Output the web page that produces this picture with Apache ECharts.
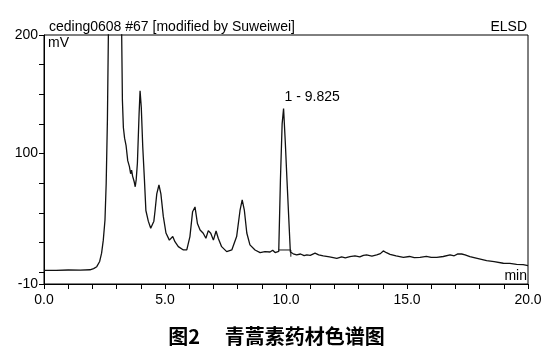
<!DOCTYPE html>
<html>
<head>
<meta charset="utf-8">
<script src="https://cdn.jsdelivr.net/npm/echarts@6/dist/echarts.min.js"></script>
<style>
html,body{margin:0;padding:0;background:#fff;}
#chart{width:553px;height:357px;}
</style>
</head>
<body>
<div id="chart"></div>
<script>
// retention time (min)
var times = [0, 0.5, 1.0, 1.5, 1.9, 2.05, 2.18, 2.3, 2.38, 2.45, 2.52, 2.57, 2.62, 2.66, 2.70, 3.17, 3.21, 3.24, 3.28, 3.33, 3.39, 3.46, 3.53, 3.58, 3.62, 3.66, 3.69, 3.73, 3.77, 3.81, 3.86, 3.93, 3.97, 4.02, 4.08, 4.15, 4.21, 4.31, 4.41, 4.48, 4.54, 4.59, 4.66, 4.75, 4.83, 4.93, 5.04, 5.18, 5.25, 5.32, 5.41, 5.55, 5.76, 5.90, 6.03, 6.14, 6.24, 6.34, 6.45, 6.58, 6.69, 6.79, 6.89, 7.0, 7.11, 7.2, 7.34, 7.55, 7.76, 7.96, 8.1, 8.19, 8.28, 8.38, 8.51, 8.72, 8.93, 9.13, 9.34, 9.45, 9.55, 9.70, 9.77, 9.84, 9.90, 9.97, 10.04, 10.18, 10.3, 10.44, 10.6, 10.75, 10.86, 11.0, 11.2, 11.35, 11.54, 11.8, 12.1, 12.3, 12.45, 12.64, 12.85, 13.05, 13.2, 13.33, 13.55, 13.75, 13.9, 14.02, 14.15, 14.3, 14.55, 14.85, 15.1, 15.3, 15.54, 15.8, 16.0, 16.23, 16.5, 16.78, 16.95, 17.1, 17.26, 17.4, 17.6, 17.9, 18.29, 18.6, 18.98, 19.25, 19.53, 19.8, 20];
// detector signal (mV)
var signal = [1.5, 1.5, 1.8, 1.7, 2.0, 3.0, 4.6, 9, 16, 27, 44, 75, 128, 200, 420, 420, 200, 145, 122, 113, 107, 94, 89, 83, 86, 81, 79, 76, 72, 78, 92, 134, 153, 139, 106, 78, 52, 43, 37, 35.5, 43, 52, 66, 73.5, 66, 47, 33, 27, 28.5, 30, 25.7, 21.5, 18.7, 18.7, 30, 51, 55, 41, 35.6, 32.8, 28.6, 35, 32.8, 27, 34.7, 28.6, 21.5, 17.3, 18.7, 30, 52, 61, 52, 33, 23, 18.7, 16.5, 17.3, 17, 18.5, 16.5, 17.5, 78, 125, 138, 110, 78, 17, 15.5, 14.5, 15.3, 13.9, 14.5, 14.2, 16, 14.6, 13.7, 12.9, 11.7, 12.9, 12.1, 13, 13.8, 12.8, 14.2, 14.5, 13.6, 14.5, 15.6, 17.9, 16.4, 15, 13.8, 12.5, 13.2, 12.2, 12.5, 13.3, 12.4, 12.5, 13.2, 14.5, 13.8, 15.4, 15.3, 14.6, 13, 11.6, 9.7, 8.9, 7.5, 7.4, 6.6, 6.3, 5.5];
// integration baseline of peak 1
var baseTimes = [9.70, 10.20, 10.20];
var baseValues = [18.7, 18.7, 13];
// peak annotation
var peakTime = 9.90, peakValue = 138, peakLabel = '1 - 9.825';
// axis ticks and labels
var xTicks = [0,1,2,3,4,5,6,7,8,9,10,11,12,13,14,15,16,17,18,19,20];
var yTicks = [-10, 0, 25, 50, 75, 100, 125, 150, 175, 200];
var yLabels = [-10, 100, 200];

var chart = echarts.init(document.getElementById('chart'), null, {renderer: 'canvas'});
var font = 'Liberation Sans, Arial, sans-serif';
var pts = times.map(function (t, i) { return [t, signal[i]]; });
var basePts = baseTimes.map(function (t, i) { return [t, baseValues[i]]; });

chart.setOption({
  animation: false,
  backgroundColor: '#ffffff',
  grid: {left: 44, right: 25, top: 35, bottom: 73, show: true, borderColor: '#000', borderWidth: 1, backgroundColor: 'transparent'},
  xAxis: {
    type: 'value', min: 0, max: 20, interval: 5,
    axisLine: {show: true, onZero: false, lineStyle: {color: '#000', width: 1}},
    axisTick: {show: true, customValues: xTicks, length: 5, lineStyle: {color: '#000'}},
    axisLabel: {color: '#000', fontFamily: font, fontSize: 14, margin: 9, formatter: function (v) { return v.toFixed(1); }},
    splitLine: {show: false}
  },
  yAxis: {
    type: 'value', min: -10, max: 200,
    axisLine: {show: true, lineStyle: {color: '#000', width: 1}},
    axisTick: {show: true, customValues: yTicks, length: 5, lineStyle: {color: '#000'}},
    axisLabel: {color: '#000', fontFamily: font, fontSize: 14, margin: 6, customValues: yLabels},
    splitLine: {show: false}
  },
  series: [
    {
      type: 'line', data: pts, showSymbol: false, symbol: 'none', clip: true,
      lineStyle: {color: '#111', width: 1.3},
      markPoint: {
        symbol: 'circle', symbolSize: 0,
        data: [{coord: [peakTime, peakValue]}],
        label: {show: true, formatter: peakLabel, position: [1, -18], align: 'left', verticalAlign: 'top', color: '#000', fontFamily: font, fontSize: 14}
      }
    },
    {
      type: 'line', data: basePts, showSymbol: false, symbol: 'none',
      lineStyle: {color: '#111', width: 1}
    }
  ],
  graphic: [
    {type: 'text', left: 49, top: 20, style: {text: 'ceding0608 #67 [modified by Suweiwei]', fill: '#000', font: '14px ' + font}},
    {type: 'text', right: 26, top: 20, style: {text: 'ELSD', fill: '#000', font: '14px ' + font}},
    {type: 'text', left: 48, top: 36, style: {text: 'mV', fill: '#000', font: '14px ' + font}},
    {type: 'text', right: 26, top: 269, style: {text: 'min', fill: '#000', font: '14px ' + font}},
    {type: 'text', left: 'center', top: 326, style: {text: '图2　 青蒿素药材色谱图', fill: '#000', font: 'bold 20px "Noto Sans CJK SC", sans-serif'}}
  ]
});
</script>
</body>
</html>
